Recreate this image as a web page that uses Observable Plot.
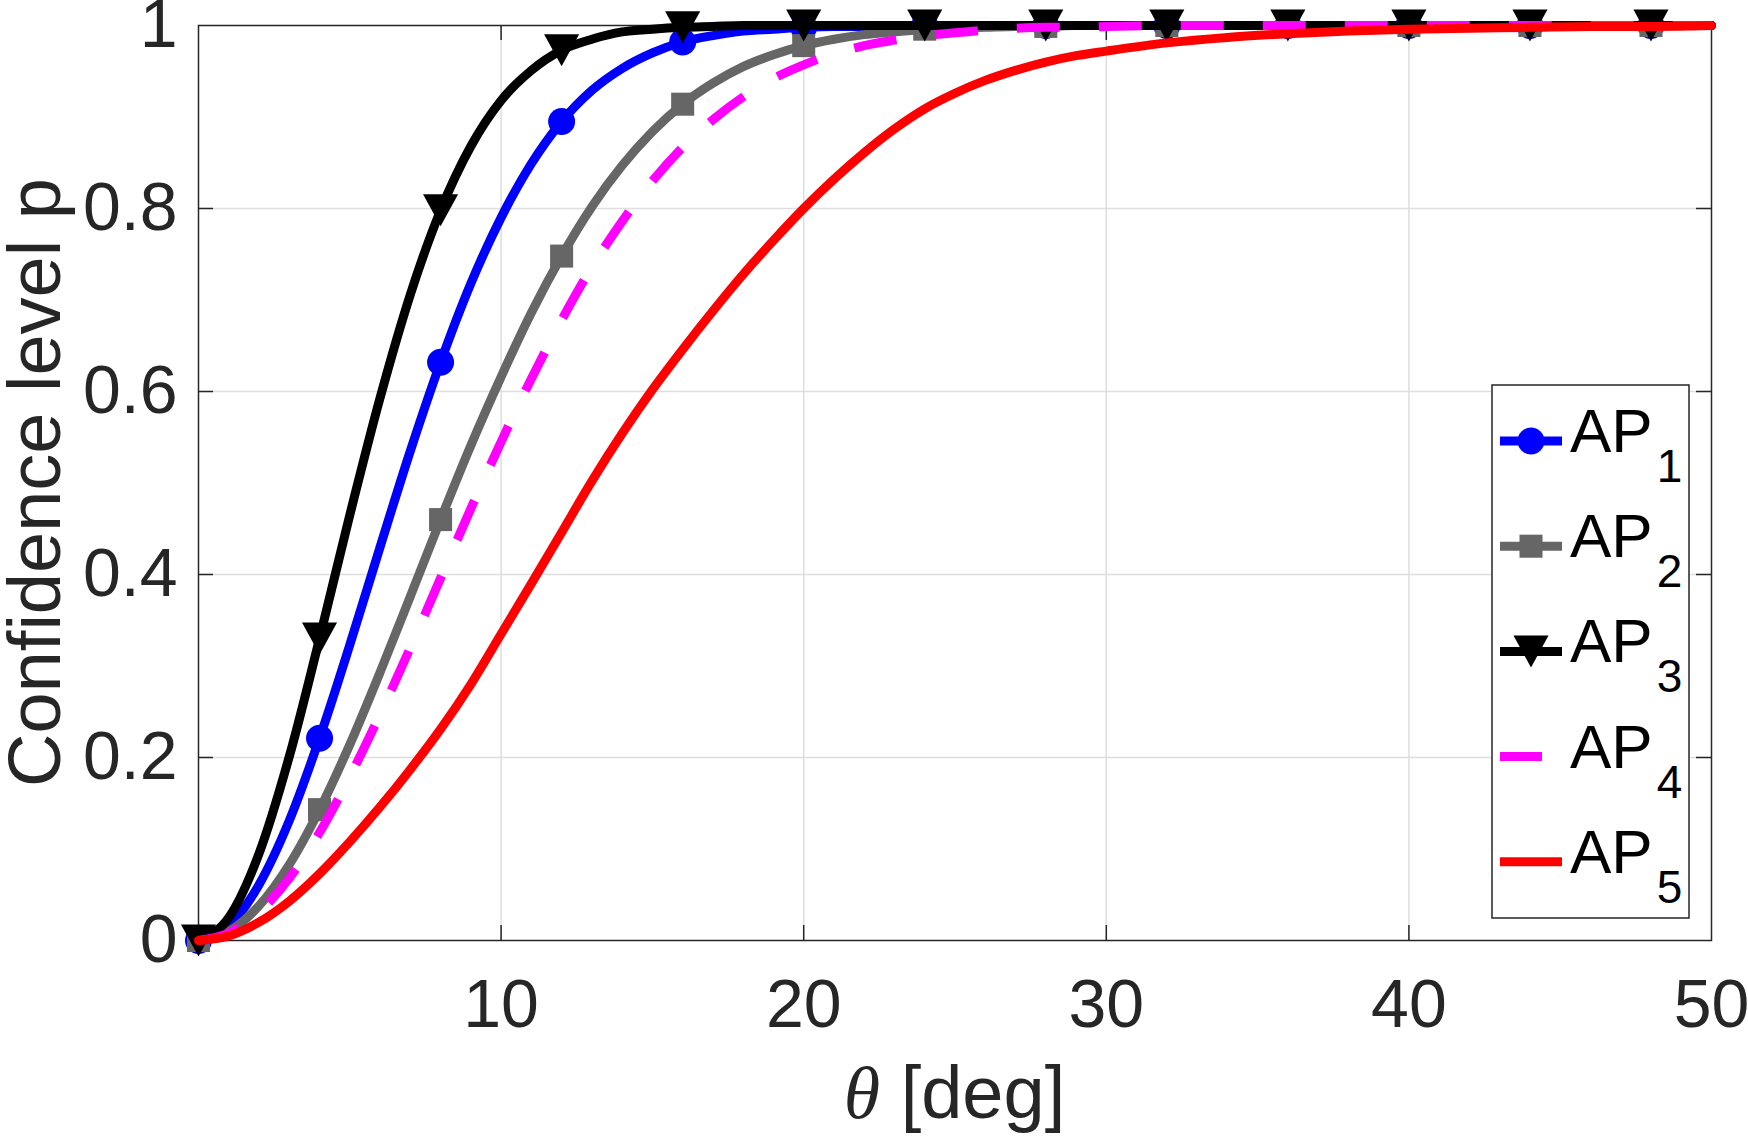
<!DOCTYPE html>
<html>
<head>
<meta charset="utf-8">
<script src="https://cdn.jsdelivr.net/npm/d3@7"></script>
<script src="https://cdn.jsdelivr.net/npm/@observablehq/plot@0.6"></script>
<style>
  html, body { margin: 0; padding: 0; background: #ffffff; }
  #chart { position: relative; width: 1748px; height: 1136px; }
  #chart svg { display: block; }
</style>
</head>
<body>
<div id="chart"></div>
<script>
// ---------------- data ----------------
const theta = [0, 1, 2, 3, 4, 5, 6, 7, 8, 9, 10, 11, 12, 13, 14, 15, 16, 17, 18, 19, 20,
  21, 22, 23, 24, 25, 26, 27, 28, 29, 30, 32, 34, 36, 38, 40, 42, 44, 46, 48, 50];

const ap1 = [0, 0.016, 0.061, 0.131, 0.221, 0.323, 0.430, 0.535, 0.632, 0.718, 0.790,
  0.849, 0.895, 0.929, 0.953, 0.970, 0.982, 0.989, 0.994, 0.996, 0.998,
  0.999, 0.999, 1, 1, 1, 1, 1, 1, 1, 1, 1, 1, 1, 1, 1, 1, 1, 1, 1, 1];

const ap2 = [0, 0.010, 0.038, 0.083, 0.143, 0.214, 0.293, 0.376, 0.460, 0.541, 0.616,
  0.686, 0.748, 0.802, 0.847, 0.884, 0.914, 0.937, 0.955, 0.968, 0.978,
  0.985, 0.990, 0.993, 0.996, 0.997, 0.998, 0.999, 0.999, 1, 1, 1, 1, 1, 1, 1, 1, 1, 1, 1, 1];

const ap3 = [0, 0.025, 0.095, 0.201, 0.330, 0.465, 0.593, 0.706, 0.798, 0.868, 0.918,
  0.951, 0.973, 0.985, 0.993, 0.996, 0.998, 0.999, 1, 1, 1,
  1, 1, 1, 1, 1, 1, 1, 1, 1, 1, 1, 1, 1, 1, 1, 1, 1, 1, 1, 1];

const ap4 = [0, 0.008, 0.031, 0.068, 0.118, 0.179, 0.247, 0.320, 0.396, 0.472, 0.545,
  0.614, 0.678, 0.736, 0.786, 0.830, 0.867, 0.897, 0.922, 0.942, 0.957,
  0.969, 0.978, 0.984, 0.989, 0.992, 0.995, 0.997, 0.998, 0.998, 0.999, 1, 1, 1, 1, 1, 1, 1, 1, 1, 1];

const ap5 = [0, 0.005, 0.020, 0.043, 0.073, 0.108, 0.146, 0.187, 0.231, 0.280, 0.335,
  0.390, 0.446, 0.502, 0.554, 0.602, 0.646, 0.688, 0.728, 0.765, 0.800,
  0.832, 0.861, 0.887, 0.909, 0.926, 0.940, 0.951, 0.960, 0.967, 0.972,
  0.981, 0.987, 0.991, 0.994, 0.996, 0.997, 0.998, 0.999, 0.999, 1];

const seriesNames = ["AP1", "AP2", "AP3", "AP4", "AP5"];
const seriesSub = ["1", "2", "3", "4", "5"];
const markerTheta = [0, 4, 8, 12, 16, 20, 24, 28, 32, 36, 40, 44, 48];

const xTicks = [10, 20, 30, 40, 50];
const xTickLabels = ["10", "20", "30", "40", "50"];
const yTicks = [0, 0.2, 0.4, 0.6, 0.8, 1];
const yTickLabels = ["0", "0.2", "0.4", "0.6", "0.8", "1"];
const xGrid = [10, 20, 30, 40];
const yGrid = [0.2, 0.4, 0.6, 0.8];

const xLabelSymbol = "θ";
const xLabelText = " [deg]";
const yLabelText = "Confidence level p";

// ---------------- styling ----------------
const W = 1748, H = 1136;
const ML = 198, MR = 37, MT = 25, MB = 196;
const PW = W - ML - MR, PH = H - MT - MB;
const FONT = "'Liberation Sans', Arial, Helvetica, sans-serif";
const AX = "#262626";
const GRID = "#dedede";
const TICK = 15;

const triangleDown = {
  draw(ctx, size) {
    const r = Math.sqrt(size / Math.PI);
    const w = r * 1.35, h = r * 1.23;
    ctx.moveTo(-w, -h);
    ctx.lineTo(w, -h);
    ctx.lineTo(0, h);
    ctx.closePath();
  }
};

const styles = [
  {color: "#0000ff", symbol: "circle", r: 13.5, dash: null},
  {color: "#666666", symbol: "square", r: 13, dash: null},
  {color: "#000000", symbol: triangleDown, r: 13, dash: null},
  {color: "#ff00ff", symbol: null, r: 0, dash: "43,39"},
  {color: "#ff0000", symbol: null, r: 0, dash: null}
];

const allValues = [ap1, ap2, ap3, ap4, ap5];
const tables = allValues.map(vals => theta.map((t, i) => ({theta: t, p: vals[i]})));

const seriesMarks = [];
tables.forEach((tbl, k) => {
  const s = styles[k];
  seriesMarks.push(Plot.line(tbl, {
    x: "theta", y: "p", stroke: s.color, strokeWidth: 9, curve: "monotone-x",
    strokeDasharray: s.dash || undefined,
    strokeLinecap: s.dash ? "butt" : "round",
    strokeLinejoin: "round"
  }));
  if (s.symbol) {
    seriesMarks.push(Plot.dot(tbl.filter(d => markerTheta.includes(d.theta)), {
      x: "theta", y: "p", r: s.r, symbol: s.symbol, fill: s.color, stroke: "none"
    }));
  }
});

const svg = Plot.plot({
  width: W, height: H,
  marginLeft: ML, marginRight: MR, marginTop: MT, marginBottom: MB,
  style: {fontFamily: FONT, background: "#ffffff", overflow: "visible"},
  x: {domain: [0, 50]},
  y: {domain: [0, 1]},
  marks: [
    Plot.gridX(xGrid, {stroke: GRID, strokeOpacity: 1, strokeWidth: 1.5}),
    Plot.gridY(yGrid, {stroke: GRID, strokeOpacity: 1, strokeWidth: 1.5}),
    Plot.frame({stroke: AX, strokeWidth: 1.5}),
    // inward ticks on four sides
    Plot.tickX(xGrid, {x: d => d, stroke: AX, strokeWidth: 1.5, insetTop: PH - TICK}),
    Plot.tickX(xGrid, {x: d => d, stroke: AX, strokeWidth: 1.5, insetBottom: PH - TICK}),
    Plot.tickY(yGrid, {y: d => d, stroke: AX, strokeWidth: 1.5, insetRight: PW - TICK}),
    Plot.tickY(yGrid, {y: d => d, stroke: AX, strokeWidth: 1.5, insetLeft: PW - TICK}),
    Plot.axisX({ticks: xTicks, tickSize: 0, tickPadding: 38, fontSize: 68, color: AX,
      tickFormat: d => xTickLabels[xTicks.indexOf(d)], label: null}),
    Plot.axisY({ticks: yTicks, tickSize: 0, tickPadding: 21, fontSize: 68, color: AX,
      tickFormat: d => yTickLabels[yTicks.indexOf(d)], label: null}),
    ...seriesMarks
  ]
});

document.getElementById("chart").appendChild(svg);

// ---------------- axis labels ----------------
const sx = svg.scale("x"), sy = svg.scale("y");
const root = d3.select(svg);
const xMid = (sx.range[0] + sx.range[1]) / 2;
const yMid = (sy.range[0] + sy.range[1]) / 2;

const xl = root.append("text")
  .attr("x", xMid).attr("y", MT + PH + 178)
  .attr("text-anchor", "middle")
  .attr("font-family", FONT).attr("font-size", 74).attr("fill", AX);
xl.append("tspan").attr("font-family", "'Liberation Serif', 'Times New Roman', serif")
  .attr("font-style", "italic").text(xLabelSymbol);
xl.append("tspan").text(xLabelText);

root.append("text")
  .attr("transform", `translate(60,${yMid}) rotate(-90)`)
  .attr("text-anchor", "middle")
  .attr("font-family", FONT).attr("font-size", 74).attr("fill", AX)
  .text(yLabelText);

// ---------------- legend ----------------
const LX = 1492, LY = 385, LW = 197, LH = 533;
const lg = root.append("g").attr("class", "legend");
lg.append("rect").attr("x", LX).attr("y", LY).attr("width", LW).attr("height", LH)
  .attr("fill", "#ffffff").attr("stroke", AX).attr("stroke-width", 1.5);
seriesNames.forEach((name, k) => {
  const s = styles[k];
  const cy = LY + 56 + k * 105.2;
  lg.append("line")
    .attr("x1", 1500).attr("x2", s.dash ? 1542 : 1562)
    .attr("y1", cy).attr("y2", cy)
    .attr("stroke", s.color).attr("stroke-width", 9).attr("stroke-linecap", "butt");
  if (s.symbol) {
    const sym = s.symbol === "circle" ? d3.symbolCircle : s.symbol === "square" ? d3.symbolSquare : s.symbol;
    lg.append("path")
      .attr("transform", `translate(1531,${cy})`)
      .attr("d", d3.symbol(sym, s.r * s.r * Math.PI)())
      .attr("fill", s.color);
  }
  const t = lg.append("text").attr("x", 1570).attr("y", cy + 11)
    .attr("text-anchor", "start")
    .attr("font-family", FONT).attr("font-size", 62).attr("fill", "#000000");
  t.append("tspan").text(name.slice(0, 2));
  t.append("tspan").attr("font-size", 46).attr("dx", 4).attr("dy", 30).text(seriesSub[k]);
});
</script>
</body>
</html>
